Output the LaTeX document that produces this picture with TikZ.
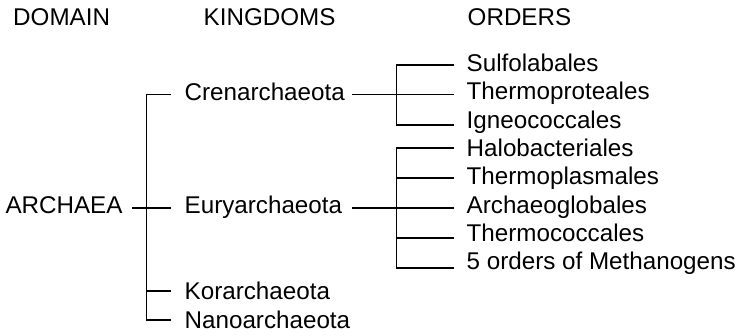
\documentclass[tikz,border=0pt]{standalone}
\usepackage{fontspec}
\setmainfont{Liberation Sans}
\begin{document}
\begin{tikzpicture}[x=1pt,y=-1pt,
  every node/.style={font=\fontsize{24.2}{29}\selectfont, anchor=base west, inner ysep=0pt},
  head/.style={inner xsep=0pt},
  kingdom/.style={inner xsep=14pt},
  order/.style={inner xsep=12.5pt},
  link/.style={line width=1.4pt}]
\useasboundingbox (0,0) rectangle (738,336);

% column headings
\node[head] (hdom) at (13,26) {DOMAIN};
\node[head] (hkin) at (203.5,26) {KINGDOMS};
\node[head] (hord) at (467.5,26) {ORDERS};

% domain
\node[inner xsep=9.3pt] (arch) at (-4,213.3) {ARCHAEA};

% kingdoms
\node[kingdom] (cren) at (170.5,100.5) {Crenarchaeota};
\node[kingdom] (eury) at (170.5,213.3) {Euryarchaeota};
\node[kingdom] (kor)  at (170.5,300)   {Korarchaeota};
\node[kingdom] (nano) at (170.5,328.3) {Nanoarchaeota};

% orders
\node[order] (o1) at (454,71.7)  {Sulfolabales};
\node[order] (o2) at (454,100)   {Thermoproteales};
\node[order] (o3) at (454,128.3) {Igneococcales};
\node[order] (o4) at (454,156.7) {Halobacteriales};
\node[order] (o5) at (454,185)   {Thermoplasmales};
\node[order] (o6) at (454,213.3) {Archaeoglobales};
\node[order] (o7) at (454,241.7) {Thermococcales};
\node[order] (o8) at (454,270)   {5 orders of Methanogens};

% domain bracket
\coordinate (d1) at (146.7,94.7);
\coordinate (d2) at (146.7,208);
\coordinate (d3) at (146.7,291);
\coordinate (d4) at (146.7,320);
\draw[link] (d1 -| cren.west) -- (d1) -- (d4) -- (d4 -| nano.west);
\draw[link] (arch.east |- d2) -- (d2 -| eury.west);
\draw[link] (d3) -- (d3 -| kor.west);

% Crenarchaeota bracket
\coordinate (c1) at (396.7,65);
\coordinate (c2) at (396.7,94.7);
\coordinate (c3) at (396.7,125);
\draw[link] (c1 -| o1.west) -- (c1) -- (c3) -- (c3 -| o3.west);
\draw[link] ([xshift=-7pt]cren.east |- c2) -- (c2 -| o2.west);

% Euryarchaeota bracket
\coordinate (e1) at (396.7,148);
\coordinate (e2) at (396.7,178);
\coordinate (e3) at (396.7,208);
\coordinate (e4) at (396.7,238);
\coordinate (e5) at (396.7,268);
\draw[link] (e1 -| o4.west) -- (e1) -- (e5) -- (e5 -| o8.west);
\draw[link] (e2) -- (e2 -| o5.west);
\draw[link] (e4) -- (e4 -| o7.west);
\draw[link] ([xshift=-4pt]eury.east |- e3) -- (e3 -| o6.west);
\end{tikzpicture}
\end{document}
